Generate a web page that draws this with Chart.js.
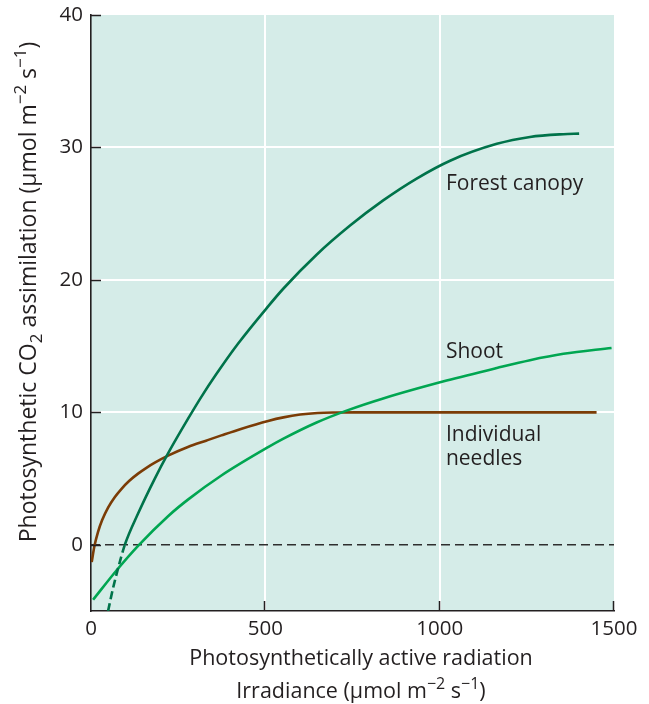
<!DOCTYPE html>
<html>
<head>
<meta charset="utf-8">
<script src="https://cdn.jsdelivr.net/npm/chart.js@4.4.1/dist/chart.umd.min.js"></script>
<style>
  html, body { margin: 0; padding: 0; background: #fff; }
  canvas { display: block; }
</style>
</head>
<body>
<canvas id="chart" width="649" height="704"></canvas>
<script>
// Tick values
const xTicks = [0, 500, 1000, 1500];
const yTicks = [0, 10, 20, 30, 40];

// Forest canopy (dashed below zero)
const forestX = [49, 63, 77, 97, 135, 183, 221, 278, 316, 359, 421, 508, 552, 647, 743, 838, 934, 1030, 1164, 1259, 1355, 1400];
const forestY = [-5.0, -3.3, -1.85, 0, 2.36, 5.0, 6.9, 9.5, 11.15, 12.87, 15.16, 18.0, 19.35, 21.9, 24.1, 26.0, 27.65, 29.0, 30.27, 30.79, 31.0, 31.04];

// Shoot
const shootX = [6, 73, 135, 221, 278, 374, 508, 552, 647, 733, 838, 1020, 1164, 1259, 1355, 1493];
const shootY = [-4.15, -1.94, -0.08, 2.16, 3.41, 5.23, 7.37, 8.01, 9.23, 10.13, 11.05, 12.4, 13.35, 13.94, 14.42, 14.86];

// Individual needles
const needleX = [2, 10, 20, 32, 49, 68, 87, 110, 135, 160, 183, 221, 278, 330, 374, 430, 508, 552, 600, 650, 700, 760, 1450];
const needleY = [-1.3, -0.08, 0.96, 1.87, 2.81, 3.59, 4.21, 4.83, 5.37, 5.83, 6.2, 6.73, 7.38, 7.86, 8.26, 8.75, 9.35, 9.62, 9.83, 9.95, 9.99, 10.0, 10.0];

// Zero reference line
const zeroX = [0, 1500];
const zeroY = [0, 0];

// Curve labels (data coordinates of text baseline start)
const curveLabels = [
    { text: 'Forest canopy', x: 1018, y: 26.8 },
    { text: 'Shoot', x: 1018, y: 14.1 },
    { text: 'Individual', x: 1018, y: 7.8 },
    { text: 'needles', x: 1018, y: 6.0 }
];

const INK = '#231f20';
const FONT = '"Open Sans", "Noto Sans", sans-serif';
const toPoints = (xs, ys) => xs.map((x, i) => ({ x: x, y: ys[i] }));

// draws text made of [string, shift] parts, shift 1 = superscript, -1 = subscript
function drawRich(ctx, parts, cx, baseY, size) {
    const fontFor = s => (s === 0 ? size : Math.round(size * 0.76)) + 'px ' + FONT;
    let total = 0;
    parts.forEach(p => { ctx.font = fontFor(p[1]); total += ctx.measureText(p[0]).width; });
    let x = cx - total / 2;
    ctx.textAlign = 'left';
    ctx.textBaseline = 'alphabetic';
    parts.forEach(p => {
        ctx.font = fontFor(p[1]);
        const dy = p[1] === 1 ? -size * 0.42 : (p[1] === -1 ? size * 0.25 : 0);
        ctx.fillText(p[0], x, baseY + dy);
        x += ctx.measureText(p[0]).width;
    });
}

const plotBg = {
    id: 'plotBg',
    beforeDraw(chart) {
        const { ctx, chartArea: a } = chart;
        ctx.save();
        ctx.fillStyle = '#d5ece8';
        ctx.fillRect(a.left, a.top, a.right - a.left, a.bottom - a.top);
        ctx.restore();
    }
};

const decorations = {
    id: 'decorations',
    afterDraw(chart) {
        const { ctx, chartArea: a, scales } = chart;
        ctx.save();
        // inward tick marks
        ctx.strokeStyle = INK;
        ctx.lineWidth = 1.5;
        ctx.beginPath();
        xTicks.slice(1).forEach(v => {
            const px = Math.round(scales.x.getPixelForValue(v)) - 0.5;
            ctx.moveTo(px, a.bottom);
            ctx.lineTo(px, a.bottom - 10);
        });
        yTicks.forEach(v => {
            const py = Math.round(scales.y.getPixelForValue(v)) + 0.5;
            ctx.moveTo(a.left, py);
            ctx.lineTo(a.left + 10, py);
        });
        ctx.stroke();

        // curve labels
        ctx.fillStyle = INK;
        ctx.font = '21px ' + FONT;
        ctx.textAlign = 'left';
        ctx.textBaseline = 'alphabetic';
        curveLabels.forEach(l => {
            ctx.fillText(l.text, scales.x.getPixelForValue(l.x), scales.y.getPixelForValue(l.y));
        });

        // axis titles
        const cx = 361;
        drawRich(ctx, [['Photosynthetically active radiation', 0]], cx, 665, 21.5);
        drawRich(ctx, [['Irradiance (\u03bcmol m', 0], ['\u22122', 1], [' s', 0], ['\u22121', 1], [')', 0]], cx, 698, 21.5);

        ctx.translate(36, 292);
        ctx.rotate(-Math.PI / 2);
        drawRich(ctx, [['Photosynthetic CO', 0], ['2', -1], [' assimilation (\u03bcmol m', 0], ['\u22122', 1], [' s', 0], ['\u22121', 1], [')', 0]], 0, 0, 23);
        ctx.restore();
    }
};

new Chart(document.getElementById('chart'), {
    type: 'line',
    data: {
        datasets: [
            {
                label: 'Forest canopy',
                data: toPoints(forestX, forestY),
                borderColor: '#00734a',
                borderWidth: 2.6,
                segment: {
                    borderDash: c => (c.p0.parsed.y < 0 ? [8, 4] : undefined)
                }
            },
            {
                label: 'Shoot',
                data: toPoints(shootX, shootY),
                borderColor: '#00a651',
                borderWidth: 2.6
            },
            {
                label: 'Individual needles',
                data: toPoints(needleX, needleY),
                borderColor: '#7b3c06',
                borderWidth: 2.6
            },
            {
                label: 'zero',
                data: toPoints(zeroX, zeroY),
                borderColor: '#2e2e2e',
                borderWidth: 1.4,
                borderDash: [9, 5],
                cubicInterpolationMode: 'default',
                tension: 0
            }
        ]
    },
    options: {
        responsive: false,
        animation: false,
        layout: { padding: { top: 15, right: 35, left: 0, bottom: 0 } },
        elements: {
            point: { radius: 0 },
            line: { cubicInterpolationMode: 'monotone', fill: false, borderCapStyle: 'butt' }
        },
        plugins: {
            legend: { display: false },
            tooltip: { enabled: false }
        },
        scales: {
            x: {
                type: 'linear',
                min: 0,
                max: 1500,
                afterBuildTicks: s => { s.ticks = xTicks.map(v => ({ value: v })); },
                afterFit: s => { s.height = 93; },
                ticks: {
                    color: INK,
                    font: { family: FONT, size: 20.5 },
                    padding: 0,
                    maxRotation: 0,
                    callback: v => String(v)
                },
                grid: {
                    drawTicks: true,
                    tickLength: 6,
                    tickColor: 'rgba(0,0,0,0)',
                    lineWidth: 2,
                    color: c => (c.tick && (c.tick.value === 500 || c.tick.value === 1000) ? '#ffffff' : 'rgba(0,0,0,0)')
                },
                border: { display: true, color: INK, width: 1.6 }
            },
            y: {
                type: 'linear',
                min: -5,
                max: 40,
                afterBuildTicks: s => { s.ticks = yTicks.map(v => ({ value: v })); },
                afterFit: s => { s.width = 91; },
                ticks: {
                    color: INK,
                    font: { family: FONT, size: 20.5 },
                    padding: 0,
                    callback: v => String(v)
                },
                grid: {
                    drawTicks: true,
                    tickLength: 8,
                    tickColor: 'rgba(0,0,0,0)',
                    lineWidth: 2,
                    color: c => (c.tick && c.tick.value > 0 && c.tick.value < 40 ? '#ffffff' : 'rgba(0,0,0,0)')
                },
                border: { display: true, color: INK, width: 1.6 }
            }
        }
    },
    plugins: [plotBg, decorations]
});
</script>
</body>
</html>
